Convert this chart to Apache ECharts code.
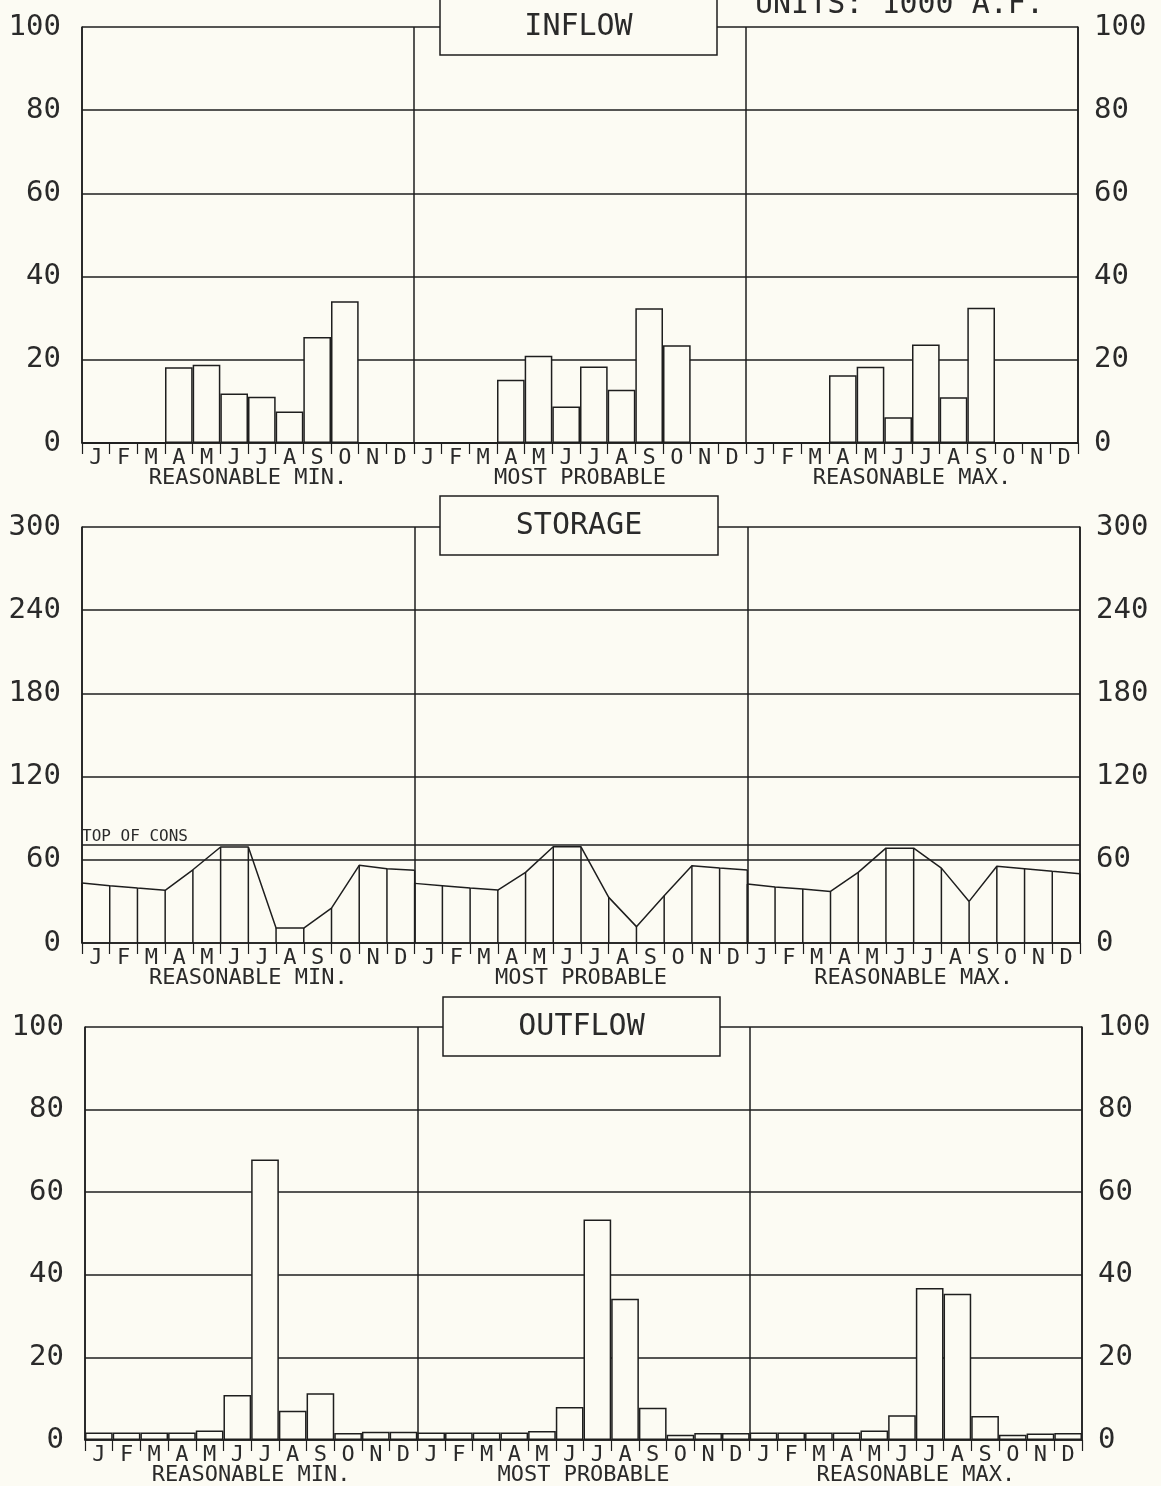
<!DOCTYPE html>
<html>
<head>
<meta charset="utf-8">
<script src="https://cdn.jsdelivr.net/npm/echarts@6/dist/echarts.min.js"></script>
<style>
  html, body { margin: 0; padding: 0; background: #fcfbf3; }
  #chart { width: 1161px; height: 1486px; }
</style>
</head>
<body>
<div id="chart"></div>
<script>
// ---------- data ----------
const months = ['J','F','M','A','M','J','J','A','S','O','N','D'];
const groups = ['REASONABLE MIN.', 'MOST PROBABLE', 'REASONABLE MAX.'];

const inflowTicks = [0, 20, 40, 60, 80, 100];
const storageTicks = [0, 60, 120, 180, 240, 300];
const outflowTicks = [0, 20, 40, 60, 80, 100];

// INFLOW (monthly bars)
const inflowMin  = [0, 0, 0, 18.2, 18.8, 11.9, 11.1, 7.6, 25.5, 34.1, 0, 0];
const inflowProb = [0, 0, 0, 15.2, 21.0, 8.8, 18.4, 12.8, 32.4, 23.5, 0, 0];
const inflowMax  = [0, 0, 0, 16.3, 18.3, 6.2, 23.7, 11.0, 32.5, 0, 0, 0];

// STORAGE (13 points per case: start of Jan .. end of Dec)
const storageMin  = [43.2, 41.3, 39.6, 38.0, 52.8, 69.2, 69.2, 10.8, 10.8, 25.2, 56.0, 53.5, 52.4];
const storageProb = [43.0, 41.3, 39.6, 38.2, 50.9, 69.4, 69.4, 32.9, 11.8, 34.1, 55.7, 54.0, 52.6];
const storageMax  = [42.5, 40.3, 38.9, 37.2, 50.9, 68.4, 68.4, 54.0, 30.0, 55.3, 53.6, 51.7, 50.0];
const topOfCons = 71;

// OUTFLOW (monthly bars)
const outflowMin  = [1.8, 1.8, 1.8, 1.8, 2.3, 10.9, 67.9, 7.1, 11.3, 1.7, 2.0, 2.0];
const outflowProb = [1.8, 1.8, 1.8, 1.8, 2.2, 8.0, 53.4, 34.2, 7.8, 1.3, 1.7, 1.7];
const outflowMax  = [1.8, 1.8, 1.8, 1.8, 2.3, 6.0, 36.8, 35.4, 5.8, 1.3, 1.6, 1.7];

// ---------- styles ----------
const BG = '#fcfbf3';
const INK = '#1e1e1e';
const TXT = '#2a2a2a';
const FONT = "'DejaVu Sans Mono', monospace";
const LW = 1.5;

const monthCats = months.concat(months, months);

const grids = [
  { left: 82, top: 27, width: 996, height: 416 },
  { left: 82, top: 527, width: 998, height: 416 },
  { left: 85, top: 1027, width: 997, height: 413 }
];

const xAxes = [];
const yAxes = [];
const tickSets = [inflowTicks, storageTicks, outflowTicks];

grids.forEach((g, i) => {
  xAxes.push({
    type: 'category', gridIndex: i, position: 'bottom', data: monthCats,
    boundaryGap: true,
    axisLine: { show: true, lineStyle: { color: INK, width: LW } },
    axisTick: { show: true, interval: 0, length: 11, lineStyle: { color: INK, width: 1.2 } },
    axisLabel: { interval: 0, margin: 4, color: TXT, fontFamily: FONT, fontSize: 22 },
    splitLine: { show: false }
  });
  xAxes.push({
    type: 'value', gridIndex: i, position: 'top', min: 0, max: 36, interval: 12,
    axisLine: { show: false }, axisTick: { show: false }, axisLabel: { show: false },
    splitLine: { show: true, lineStyle: { color: INK, width: LW } }
  });
  xAxes.push({
    type: 'category', gridIndex: i, position: 'bottom', data: groups,
    axisLine: { show: false }, axisTick: { show: false },
    axisLabel: { interval: 0, margin: 24, color: TXT, fontFamily: FONT, fontSize: 22 },
    splitLine: { show: false }
  });
  const t = tickSets[i];
  const mn = t[0], mx = t[t.length - 1], iv = t[1] - t[0];
  yAxes.push({
    type: 'value', gridIndex: i, position: 'left', min: mn, max: mx, interval: iv,
    axisLine: { show: true, lineStyle: { color: INK, width: LW } },
    axisTick: { show: false },
    axisLabel: { margin: 21, color: TXT, fontFamily: FONT, fontSize: 29 },
    splitLine: { show: true, lineStyle: { color: INK, width: LW } }
  });
  yAxes.push({
    type: 'value', gridIndex: i, position: 'right', min: mn, max: mx, interval: iv,
    axisLine: { show: true, lineStyle: { color: INK, width: LW } },
    axisTick: { show: false },
    axisLabel: { margin: 16, color: TXT, fontFamily: FONT, fontSize: 29 },
    splitLine: { show: false }
  });
});

const barStyle = { color: BG, borderColor: INK, borderWidth: LW };

function storagePoints(arr, g) {
  return arr.map((v, k) => [k + 12 * g, v]);
}
const allStorage = storagePoints(storageMin, 0)
  .concat(storagePoints(storageProb, 1), storagePoints(storageMax, 2));

const series = [
  {
    type: 'bar', xAxisIndex: 0, yAxisIndex: 0, barCategoryGap: '0%',
    data: inflowMin.concat(inflowProb, inflowMax), itemStyle: barStyle, z: 3
  },
  {
    type: 'bar', xAxisIndex: 6, yAxisIndex: 4, barCategoryGap: '0%',
    data: outflowMin.concat(outflowProb, outflowMax), itemStyle: barStyle, z: 3
  },
  {
    type: 'custom', xAxisIndex: 4, yAxisIndex: 2, data: allStorage, z: 3,
    renderItem: function (params, api) {
      const x = api.value(0), y = api.value(1);
      const p0 = api.coord([x, 0]);
      const p1 = api.coord([x, y]);
      return {
        type: 'line',
        shape: { x1: p0[0], y1: p0[1], x2: p1[0], y2: p1[1] },
        style: { stroke: INK, lineWidth: LW }
      };
    }
  }
];
[storageMin, storageProb, storageMax].forEach((arr, g) => {
  const s = {
    type: 'line', xAxisIndex: 4, yAxisIndex: 2, data: storagePoints(arr, g),
    symbol: 'none', lineStyle: { color: INK, width: LW }, z: 4
  };
  if (g === 0) {
    s.markLine = {
      silent: true, symbol: ['none', 'none'],
      lineStyle: { color: INK, width: LW, type: 'solid' },
      label: {
        show: true, position: 'insideStartTop', formatter: 'TOP OF CONS',
        color: TXT, fontFamily: FONT, fontSize: 16, distance: [0, 0]
      },
      data: [{ yAxis: topOfCons }]
    };
  }
  series.push(s);
});

function titleBox(x, y, w, h, text) {
  return [
    { type: 'rect', z: 100, shape: { x: x, y: y, width: w, height: h },
      style: { fill: BG, stroke: INK, lineWidth: LW } },
    { type: 'text', z: 101, x: x + w / 2, y: y + h / 2 + 1,
      style: { text: text, font: "30px 'DejaVu Sans Mono', monospace", fill: TXT,
               align: 'center', verticalAlign: 'middle' } }
  ];
}

const graphic = [].concat(
  titleBox(440, -3, 277, 58, 'INFLOW'),
  titleBox(440, 496, 278, 59, 'STORAGE'),
  titleBox(443, 997, 277, 59, 'OUTFLOW'),
  [{ type: 'text', z: 101, x: 755, y: 5,
     style: { text: 'UNITS: 1000 A.F.', font: "30px 'DejaVu Sans Mono', monospace", fill: TXT,
              align: 'left', verticalAlign: 'middle' } }]
);

const chart = echarts.init(document.getElementById('chart'), null, { renderer: 'canvas' });
chart.setOption({
  backgroundColor: BG,
  animation: false,
  grid: grids,
  xAxis: xAxes,
  yAxis: yAxes,
  series: series,
  graphic: graphic
});
</script>
</body>
</html>
